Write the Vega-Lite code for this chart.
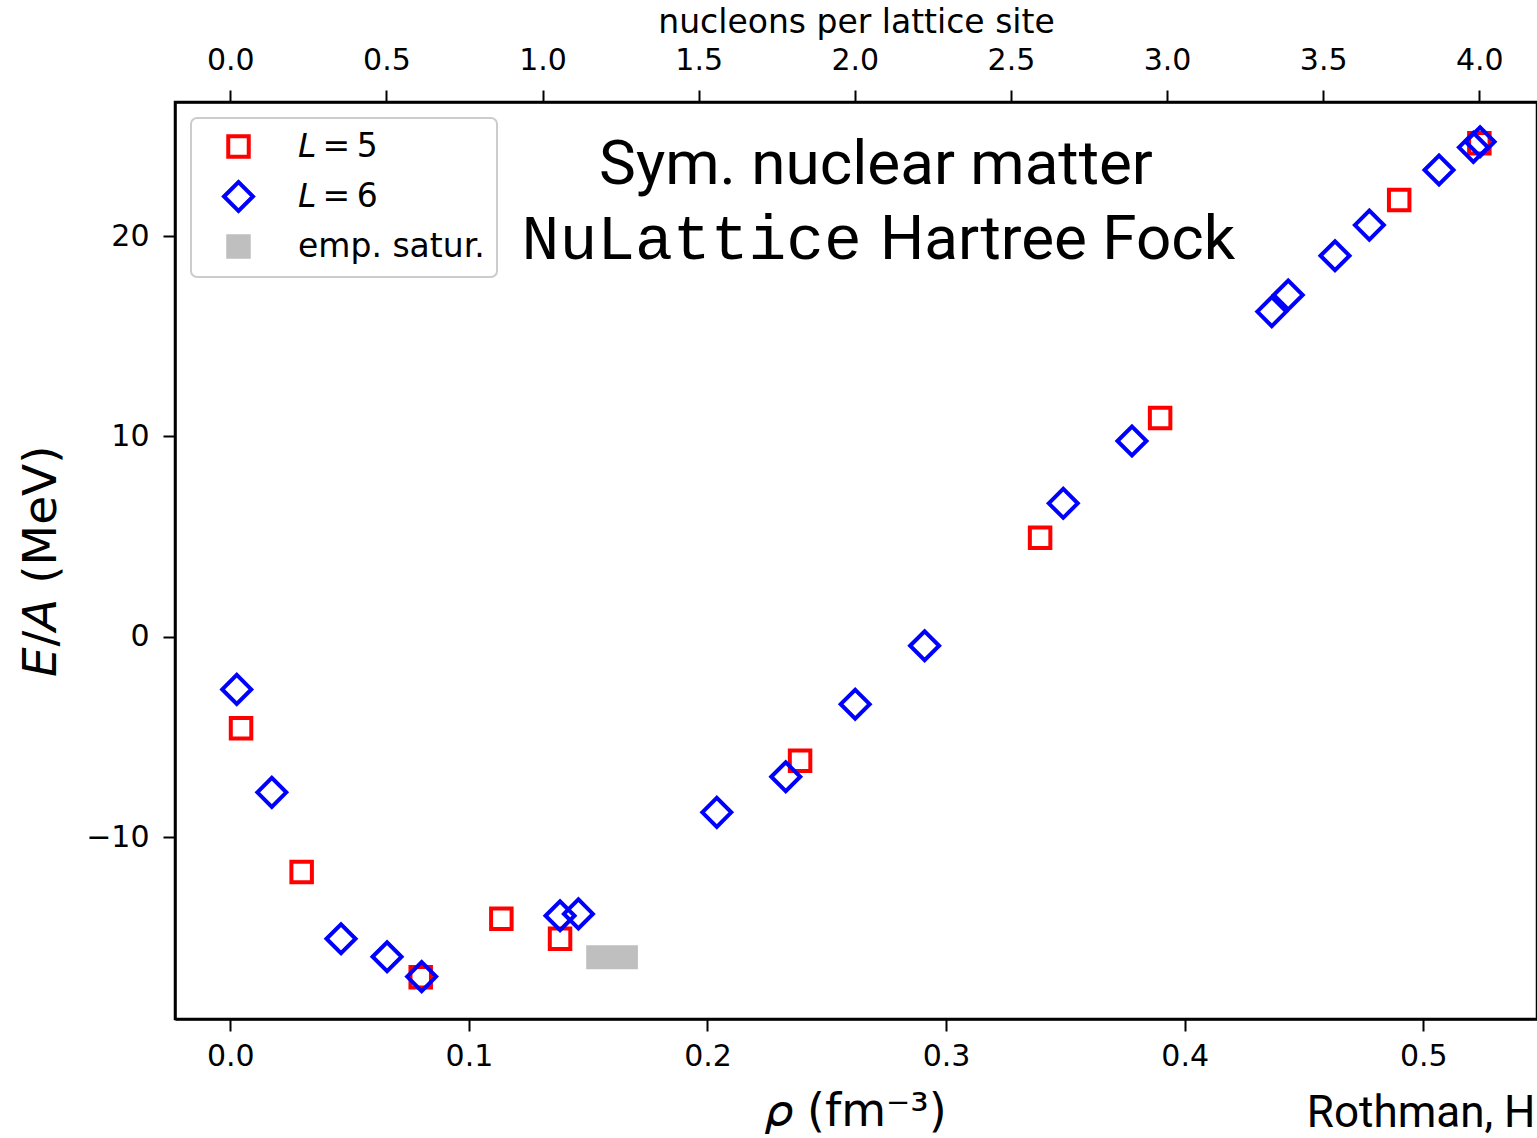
{
  "$schema": "https://vega.github.io/schema/vega-lite/v6.json",
  "width": 1362,
  "height": 917,
  "autosize": {"type": "none"},
  "padding": {"left": 175, "top": 102, "right": 0, "bottom": 119},
  "background": "white",
  "config": {
    "view": {"stroke": "black", "strokeWidth": 2.5},
    "axis": {
      "domainColor": "black", "domainWidth": 2.5,
      "tickColor": "black", "tickWidth": 2, "tickSize": 12,
      "labelColor": "black", "labelFont": "DejaVu Sans", "labelFontSize": 30,
      "titleFont": "DejaVu Sans", "titleColor": "black", "titleFontWeight": "normal",
      "grid": false
    },
    "legend": {
      "orient": "top-left", "offset": 16, "padding": 12, "rowPadding": 9,
      "symbolSize": 420, "symbolStrokeWidth": 4,
      "labelFont": "DejaVu Sans", "labelFontSize": 33, "labelColor": "black",
      "labelOffset": 43, "symbolOffset": 19, "labelLimit": 400,
      "strokeColor": "#cccccc", "fillColor": "white", "cornerRadius": 6, "strokeWidth": 2
    }
  },
  "datasets": {
    "points": [
      {"series": "L5", "rho": 0.0045, "E": -4.57},
      {"series": "L5", "rho": 0.0299, "E": -11.75},
      {"series": "L5", "rho": 0.0798, "E": -17.0},
      {"series": "L5", "rho": 0.1136, "E": -14.08},
      {"series": "L5", "rho": 0.1382, "E": -15.08},
      {"series": "L5", "rho": 0.2388, "E": -6.19},
      {"series": "L5", "rho": 0.3394, "E": 4.94},
      {"series": "L5", "rho": 0.3897, "E": 10.92},
      {"series": "L5", "rho": 0.4899, "E": 21.8},
      {"series": "L5", "rho": 0.5235, "E": 24.63},
      {"series": "L6", "rho": 0.0027, "E": -2.63},
      {"series": "L6", "rho": 0.0174, "E": -7.77},
      {"series": "L6", "rho": 0.0464, "E": -15.08},
      {"series": "L6", "rho": 0.0657, "E": -15.98},
      {"series": "L6", "rho": 0.0802, "E": -16.97},
      {"series": "L6", "rho": 0.1382, "E": -13.93},
      {"series": "L6", "rho": 0.1459, "E": -13.84},
      {"series": "L6", "rho": 0.2039, "E": -8.77},
      {"series": "L6", "rho": 0.2328, "E": -6.99},
      {"series": "L6", "rho": 0.2619, "E": -3.37},
      {"series": "L6", "rho": 0.291, "E": -0.45},
      {"series": "L6", "rho": 0.3491, "E": 6.66},
      {"series": "L6", "rho": 0.3779, "E": 9.77},
      {"series": "L6", "rho": 0.4365, "E": 16.23},
      {"series": "L6", "rho": 0.4434, "E": 17.06},
      {"series": "L6", "rho": 0.463, "E": 19.02},
      {"series": "L6", "rho": 0.4774, "E": 20.55},
      {"series": "L6", "rho": 0.5066, "E": 23.3},
      {"series": "L6", "rho": 0.521, "E": 24.43},
      {"series": "L6", "rho": 0.5238, "E": 24.71}
    ],
    "sat": [{"rho_lo": 0.15, "rho_hi": 0.17, "E_hi": -15.5, "E_lo": -16.5}],
    "topticks": [{"n": 0}, {"n": 0.5}, {"n": 1}, {"n": 1.5}, {"n": 2}, {"n": 2.5}, {"n": 3}, {"n": 3.5}, {"n": 4}],
    "one": [{}]
  },
  "layer": [
    {
      "layer": [
        {
          "data": {"name": "sat"},
          "mark": {"type": "rect", "fill": "#bfbfbf", "stroke": "#bfbfbf", "strokeWidth": 4},
          "encoding": {
            "x": {"field": "rho_lo", "type": "quantitative", "scale": {"domain": [-0.02318, 0.54766], "nice": false, "zero": false},
                  "axis": {"orient": "bottom", "values": [0, 0.1, 0.2, 0.3, 0.4, 0.5], "format": ".1f", "title": "𝜌 (fm⁻³)", "titleFontSize": 46, "labelPadding": 10, "titlePadding": 18}},
            "x2": {"field": "rho_hi"},
            "y": {"field": "E_hi", "type": "quantitative", "scale": {"domain": [-19.086, 26.695], "nice": false, "zero": false},
                  "axis": {"values": [-10, 0, 10, 20], "title": "𝘌/𝘈 (MeV)", "titleFontSize": 47, "labelPadding": 14, "titlePadding": 20}},
            "y2": {"field": "E_lo"}
          }
        },
        {
          "data": {"name": "points"},
          "mark": {"type": "point", "strokeWidth": 4, "size": 420, "opacity": 1},
          "encoding": {
            "x": {"field": "rho", "type": "quantitative", "scale": {"domain": [-0.02318, 0.54766], "nice": false, "zero": false}},
            "y": {"field": "E", "type": "quantitative", "scale": {"domain": [-19.086, 26.695], "nice": false, "zero": false}},
            "stroke": {"field": "series", "type": "nominal",
                       "scale": {"domain": ["L5", "L6", "sat"], "range": ["#ff0000", "#0000ff", "#bfbfbf"]},
                       "legend": {"title": null, "labelExpr": "datum.value == 'L5' ? '𝘓\u2009=\u20095' : datum.value == 'L6' ? '𝘓\u2009=\u20096' : 'emp. satur.'"}},
            "fill": {"field": "series", "type": "nominal",
                     "scale": {"domain": ["L5", "L6", "sat"], "range": ["transparent", "transparent", "#bfbfbf"]},
                     "legend": {"title": null, "labelExpr": "datum.value == 'L5' ? '𝘓\u2009=\u20095' : datum.value == 'L6' ? '𝘓\u2009=\u20096' : 'emp. satur.'"}},
            "shape": {"field": "series", "type": "nominal",
                      "scale": {"domain": ["L5", "L6", "sat"], "range": ["square", "M-1.414,0L0,-1.414L1.414,0L0,1.414Z", "square"]},
                      "legend": {"title": null, "labelExpr": "datum.value == 'L5' ? '𝘓\u2009=\u20095' : datum.value == 'L6' ? '𝘓\u2009=\u20096' : 'emp. satur.'"}}
          }
        },
        {
          "data": {"name": "one"},
          "mark": {"type": "text", "text": "Sym. nuclear matter", "font": "Roboto", "fontSize": 62, "align": "center", "baseline": "alphabetic", "color": "black"},
          "encoding": {
            "x": {"datum": 0.2706, "type": "quantitative", "scale": {"domain": [-0.02318, 0.54766], "nice": false, "zero": false}},
            "y": {"datum": 22.6, "type": "quantitative", "scale": {"domain": [-19.086, 26.695], "nice": false, "zero": false}}
          }
        },
        {
          "data": {"name": "one"},
          "mark": {"type": "text", "text": "NuLattice", "font": "Liberation Mono", "fontSize": 63, "align": "right", "baseline": "alphabetic", "color": "black"},
          "encoding": {
            "x": {"datum": 0.2647, "type": "quantitative", "scale": {"domain": [-0.02318, 0.54766], "nice": false, "zero": false}},
            "y": {"datum": 18.88, "type": "quantitative", "scale": {"domain": [-19.086, 26.695], "nice": false, "zero": false}}
          }
        },
        {
          "data": {"name": "one"},
          "mark": {"type": "text", "text": "Hartree Fock", "font": "Roboto", "fontSize": 62, "align": "left", "baseline": "alphabetic", "color": "black"},
          "encoding": {
            "x": {"datum": 0.2723, "type": "quantitative", "scale": {"domain": [-0.02318, 0.54766], "nice": false, "zero": false}},
            "y": {"datum": 18.88, "type": "quantitative", "scale": {"domain": [-19.086, 26.695], "nice": false, "zero": false}}
          }
        },
        {
          "data": {"name": "one"},
          "mark": {"type": "text", "text": "Rothman, H", "font": "Roboto", "fontSize": 44, "align": "left", "baseline": "alphabetic", "color": "black"},
          "encoding": {
            "x": {"datum": 0.4512, "type": "quantitative", "scale": {"domain": [-0.02318, 0.54766], "nice": false, "zero": false}},
            "y": {"datum": -24.48, "type": "quantitative", "scale": {"domain": [-19.086, 26.695], "nice": false, "zero": false}}
          }
        }
      ]
    },
    {
      "data": {"name": "topticks"},
      "mark": {"type": "point", "opacity": 0},
      "encoding": {
        "x": {"field": "n", "type": "quantitative", "scale": {"domain": [-0.1771, 4.1848], "nice": false, "zero": false},
              "axis": {"orient": "top", "values": [0, 0.5, 1, 1.5, 2, 2.5, 3, 3.5, 4], "format": ".1f", "title": "nucleons per lattice site", "titleFontSize": 33, "labelPadding": 15, "titlePadding": 6}}
      }
    }
  ],
  "resolve": {"scale": {"x": "independent"}, "axis": {"x": "independent"}}
}
